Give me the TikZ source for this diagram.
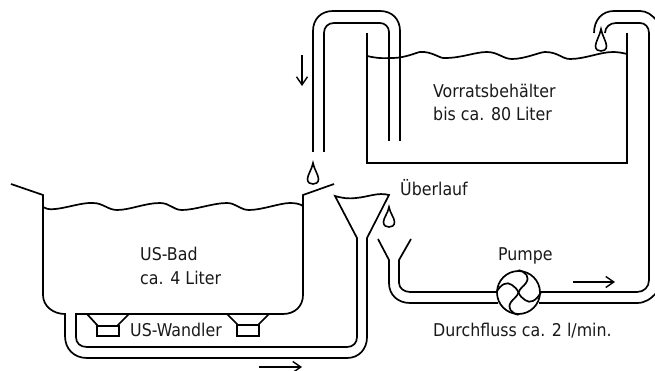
\documentclass[tikz,border=0pt]{standalone}
\usepackage{fontspec}
\setmainfont{DejaVu Sans Condensed}
\usetikzlibrary{arrows.meta}
\tikzset{
  pipe/.style={line width=1.7pt,black,line join=miter},
  flow/.style={line width=1.5pt,black,-{Straight Barb[length=8pt,width=11pt,line width=1.4pt]}},
  lbl/.style={anchor=base west,inner sep=0pt,font=\fontsize{17.6}{20}\selectfont,text=black!90}
}
\newcommand{\dropshape}[3]{% x, top y, bottom y
  \draw[pipe,line width=1.6pt] (#1,#2) .. controls (#1+1,#2+6) and (#1+5.5,#3-9) .. (#1+5.5,#3-5)
     .. controls (#1+5.5,#3-1) and (#1+2.5,#3) .. (#1,#3)
     .. controls (#1-2.5,#3) and (#1-5.5,#3-1) .. (#1-5.5,#3-5)
     .. controls (#1-5.5,#3-9) and (#1-1,#2+6) .. cycle;}
\begin{document}
\begin{tikzpicture}[x=1pt,y=-1pt]
\useasboundingbox (0,0) rectangle (655,371);
\clip (0,0) rectangle (655,371);
% bath and inlet pipe (outer line)
\draw[pipe] (11,184) -- (43,195) -- (43,295)
  .. controls (43,306) and (53,314) .. (65,314)
  -- (65,336) .. controls (65,349) and (74,358) .. (87,358)
  -- (347,358) .. controls (359,358) and (367,349) .. (367,337)
  -- (367,238) -- (389,195)
  .. controls (378,192) and (368,197) .. (356,198)
  .. controls (348,199) and (342,198) .. (335,196)
  -- (357,238) -- (357,337)
  .. controls (357,343) and (353,347) .. (347,347)
  -- (87,347) .. controls (80,347) and (76,343) .. (76,337)
  -- (76,314) -- (283,314)
  .. controls (295,314) and (303,306) .. (303,295)
  -- (303,195) -- (334,184);
% bath water
\draw[pipe] (43,207) .. controls (52,214) and (78,202) .. (93,203)
  .. controls (103,203) and (108,210) .. (117,210)
  .. controls (130,210) and (145,203) .. (160,203)
  .. controls (170,203) and (173,210) .. (182,210)
  .. controls (195,210) and (213,203) .. (227,203)
  .. controls (236,203) and (240,210) .. (249,210)
  .. controls (262,210) and (280,203) .. (290,203)
  .. controls (296,203) and (300,204) .. (303,206);
% transducers
\draw[pipe] (87,314) -- (98,326) -- (117,326) -- (129,314);
\draw[pipe] (97,326) rectangle (119,336);
\draw[pipe] (227,314) -- (238,325) -- (258,325) -- (269,314);
\draw[pipe] (237,325) rectangle (259,336);
% tank
\draw[pipe] (367,33) -- (367,163) -- (627,163) -- (627,33);
\draw[pipe] (367,56) .. controls (380,59) and (385,58) .. (393,58)
  .. controls (405,58) and (418,52) .. (420,52)
  .. controls (432,51) and (440,59) .. (445,58)
  .. controls (462,58) and (475,52) .. (487,52)
  .. controls (498,52) and (503,59) .. (512,59)
  .. controls (525,59) and (540,52) .. (545,52)
  .. controls (558,52) and (562,59) .. (570,59)
  .. controls (585,59) and (600,52) .. (613,52)
  .. controls (618,52) and (623,53) .. (627,54);
% siphon tube
\draw[pipe] (313,152) -- (313,31) .. controls (313,19) and (321,11) .. (333,11)
  -- (380,11) .. controls (392,11) and (400,19) .. (400,31) -- (400,141);
\draw[pipe] (324,152) -- (324,33) .. controls (324,27) and (328,23) .. (334,23)
  -- (380,23) .. controls (385,23) and (389,27) .. (389,32) -- (389,141);
% return pipe, outer
\draw[pipe] (378,239) -- (389,260) -- (389,283)
  .. controls (389,295) and (398,303) .. (410,303)
  -- (498,303);
\draw[pipe] (539,303) -- (637,303) .. controls (645,303) and (651,299) .. (657,292);
\draw[pipe] (594,33) .. controls (594,20) and (602,11) .. (614,11)
  -- (640,11) .. controls (647,11) and (652,15) .. (657,21);
% return pipe, inner
\draw[pipe] (411,239) -- (399,260) -- (399,283)
  .. controls (399,288) and (404,292) .. (410,292)
  -- (497,292);
\draw[pipe] (540,292) -- (637,292) .. controls (644,292) and (649,287) .. (649,280)
  -- (649,33) .. controls (649,27) and (645,23) .. (640,23)
  -- (616,23) .. controls (610,23) and (605,27) .. (605,33);
% pump
\node[circle,draw,line width=1.7pt,minimum size=43pt,inner sep=0pt] (pumpe) at (518.5,292.5) {};
\coordinate (hub) at (518.5,292.5);
\draw[pipe] (pumpe.north) .. controls (526,272) and (530,277) .. (526,283) .. controls (524,286) and (520,288) .. (hub);
\draw[pipe] (pumpe.east) .. controls (536,301) and (530,304) .. (525,300) .. controls (522,298) and (520,296) .. (hub);
\draw[pipe] (pumpe.south) .. controls (511,313) and (507,308) .. (511,302) .. controls (513,299) and (517,297) .. (hub);
\draw[pipe] (pumpe.west) .. controls (501,284) and (507,281) .. (512,285) .. controls (515,287) and (517,289) .. (hub);
% drops
\dropshape{313}{163}{184}
\dropshape{389}{207}{227}
\dropshape{601}{29}{51}
% arrows
\coordinate (a1) at (302,55); \coordinate (a2) at (302,86);
\coordinate (b1) at (259,367); \coordinate (b2) at (302,367);
\coordinate (c1) at (573,282); \coordinate (c2) at (615,282);
\draw[flow] (a1) -- (a2);
\draw[flow] (b1) -- (b2);
\draw[flow] (c1) -- (c2);
% labels
\node[lbl] (t1) at (140,260) {US-Bad};
\node[lbl] (t2) at (140,284) {ca. 4 Liter};
\node[lbl] (t3) at (130,336) {US-Wandler};
\node[lbl] (t4) at (433,98) {Vorratsbehälter};
\node[lbl] (t5) at (433,121) {bis ca. 80 Liter};
\node[lbl] (t6) at (400,196) {Überlauf};
\node[lbl] (t7) at (498,260) {Pumpe};
\node[lbl] (t8) at (433,336) {Durchfluss ca. 2 l/min.};
\end{tikzpicture}
\end{document}
